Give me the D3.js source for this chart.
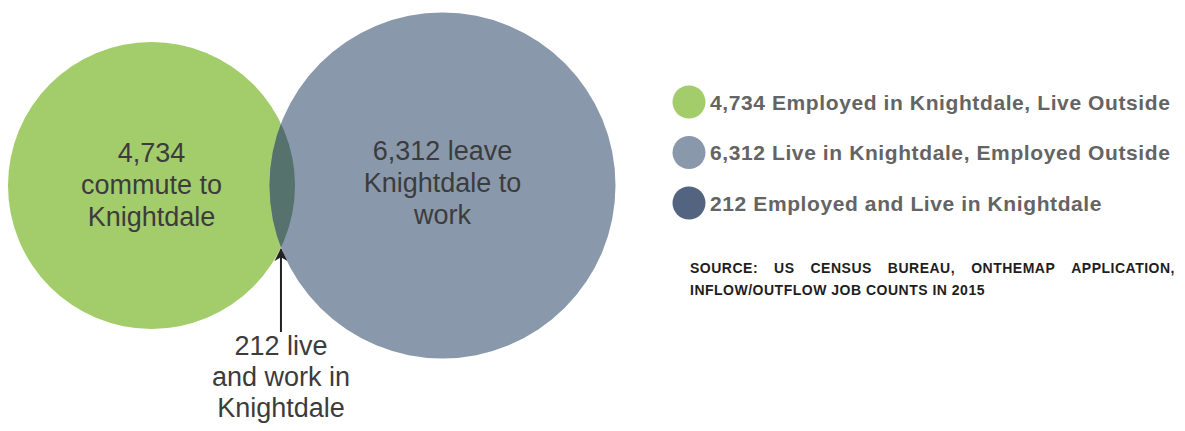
<!DOCTYPE html>
<html>
<head>
<meta charset="utf-8">
<script src="https://cdn.jsdelivr.net/npm/d3@7"></script>
<style>
  body { margin: 0; background: #fff; }
  svg { display: block; }
  .big { font-family: Arial, "Liberation Sans", Helvetica, sans-serif; font-size: 27px; fill: #3c3c3c; }
  .leg { font-family: Arial, "Liberation Sans", Helvetica, sans-serif; font-size: 21px; font-weight: bold; fill: #646464; letter-spacing: 0.6px; }
  .src { font-family: Arial, "Liberation Sans", Helvetica, sans-serif; font-size: 14px; font-weight: bold; fill: #1e1e1e; letter-spacing: 0.5px; }
</style>
</head>
<body>
<div id="chart"></div>
<script>
  // data
  const groups = ["Employed in Knightdale, Live Outside", "Live in Knightdale, Employed Outside", "Employed and Live in Knightdale"];
  const counts = [4734, 6312, 212];
  const colors = ["#a3cc6b", "#8a98ab", "#56726c"];
  const legendColors = ["#a3cc6b", "#8a98ab", "#52647f"];
  const circleLabels = [
    ["4,734", "commute to", "Knightdale"],
    ["6,312 leave", "Knightdale to", "work"]
  ];
  const overlapLabel = ["212 live", "and work in", "Knightdale"];
  const sourceLine1 = ["SOURCE:", "US", "CENSUS", "BUREAU,", "ONTHEMAP", "APPLICATION,"];
  const sourceLine2 = "INFLOW/OUTFLOW JOB COUNTS IN 2015";

  const width = 1185, height = 431;
  const svg = d3.select("#chart").append("svg")
    .attr("width", width)
    .attr("height", height);

  // each circle holds its own count plus the shared part
  const totals = [counts[0] + counts[2], counts[1] + counts[2]];
  const r = d3.scaleLinear()
    .domain(d3.extent(totals))
    .range([143.5, 173]);

  const r1 = r(totals[0]), r2 = r(totals[1]);
  const overlap = 25.5;
  const cy = 185.5;
  const c1 = 151.5;
  const c2 = c1 + r1 + r2 - overlap;

  const circles = [{x: c1, r: r1}, {x: c2, r: r2}];

  svg.selectAll("circle.venn")
    .data(circles)
    .enter().append("circle")
    .attr("class", "venn")
    .attr("cx", d => d.x)
    .attr("cy", cy)
    .attr("r", d => d.r)
    .attr("fill", (d, i) => colors[i]);

  // lens = green circle clipped by gray one
  svg.append("clipPath").attr("id", "clip2")
    .append("circle")
    .attr("cx", c2).attr("cy", cy).attr("r", r2);
  svg.append("circle")
    .attr("cx", c1).attr("cy", cy).attr("r", r1)
    .attr("fill", colors[2])
    .attr("clip-path", "url(#clip2)");

  // bottom intersection point
  const d = c2 - c1;
  const a = (d * d + r1 * r1 - r2 * r2) / (2 * d);
  const h = Math.sqrt(r1 * r1 - a * a);
  const ix = c1 + a, iy = cy + h;

  // labels inside circles
  const labelBase = [162, 160];
  circleLabels.forEach((lines, i) => {
    const t = svg.append("text")
      .attr("class", "big")
      .attr("text-anchor", "middle");
    lines.forEach((s, j) => {
      t.append("tspan")
        .attr("x", circles[i].x)
        .attr("y", labelBase[i] + j * 32)
        .text(s);
    });
  });

  // arrow to the overlap
  svg.append("defs").append("marker")
    .attr("id", "arrow")
    .attr("viewBox", "0 0 10 10")
    .attr("refX", 9).attr("refY", 5)
    .attr("markerWidth", 6.5).attr("markerHeight", 6.5)
    .attr("orient", "auto")
    .append("path")
    .attr("d", "M0,0 L10,5 L0,10 L3,5 Z")
    .attr("fill", "#222");
  svg.append("line")
    .attr("x1", ix).attr("y1", 332)
    .attr("x2", ix).attr("y2", iy + 2)
    .attr("stroke", "#222")
    .attr("stroke-width", 2)
    .attr("marker-end", "url(#arrow)");

  const ot = svg.append("text").attr("class", "big").attr("text-anchor", "middle");
  overlapLabel.forEach((s, j) => {
    ot.append("tspan").attr("x", ix).attr("y", 355 + j * 31).text(s);
  });

  // legend
  const legend = svg.append("g").attr("transform", "translate(689, 102)");
  const rows = legend.selectAll("g")
    .data(groups)
    .enter().append("g")
    .attr("transform", (g, i) => `translate(0, ${i * 50.5})`);
  rows.append("circle")
    .attr("r", 16.5)
    .attr("fill", (g, i) => legendColors[i]);
  rows.append("text")
    .attr("class", "leg")
    .attr("x", 21)
    .attr("y", 7.5)
    .text((g, i) => d3.format(",")(counts[i]) + " " + g);

  // source note, first line justified
  const srcLeft = 690, srcRight = 1175;
  const src1 = svg.append("g");
  const words = src1.selectAll("text")
    .data(sourceLine1)
    .enter().append("text")
    .attr("class", "src")
    .attr("y", 273)
    .text(w => w);
  const widths = [];
  words.each(function() { widths.push(this.getComputedTextLength()); });
  const gap = (srcRight - srcLeft - d3.sum(widths)) / (sourceLine1.length - 1);
  let xpos = srcLeft;
  words.attr("x", (w, i) => {
    const x = xpos;
    xpos += widths[i] + gap;
    return x;
  });
  svg.append("text")
    .attr("class", "src")
    .attr("x", srcLeft)
    .attr("y", 295)
    .text(sourceLine2);
</script>
</body>
</html>
